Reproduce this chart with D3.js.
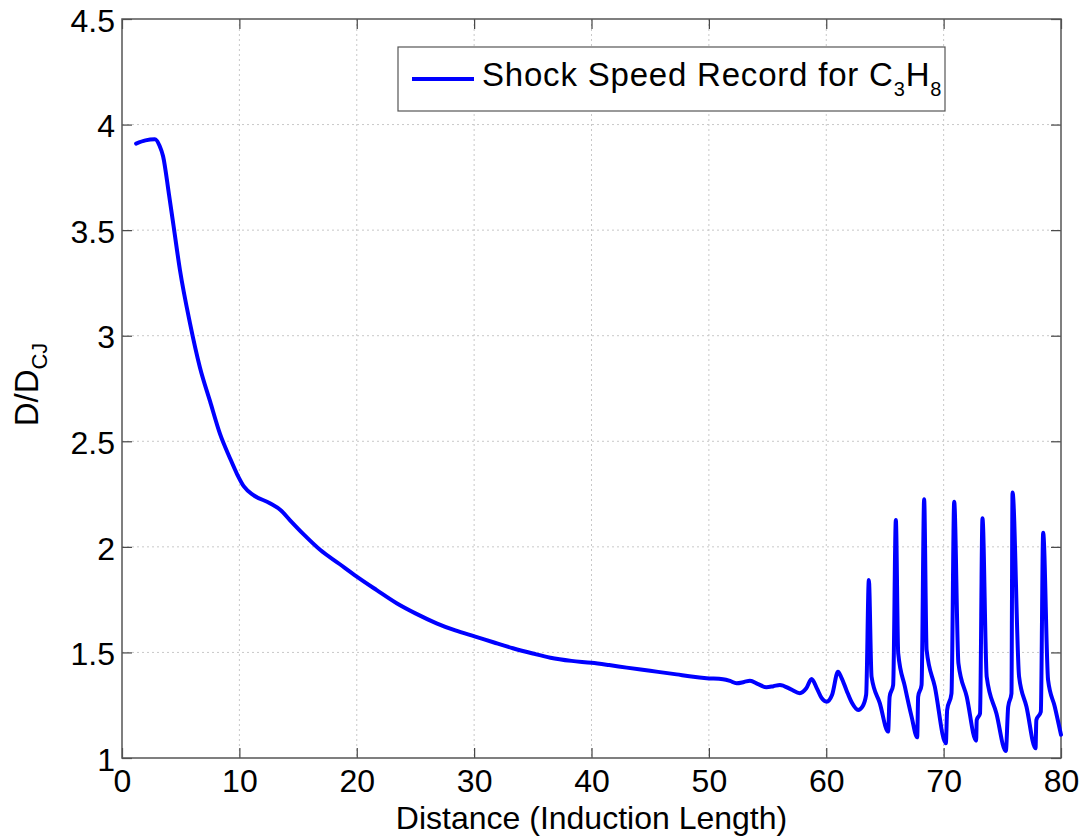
<!DOCTYPE html>
<html>
<head>
<meta charset="utf-8">
<script src="https://cdn.jsdelivr.net/npm/d3@7"></script>
<style>
  body { margin: 0; background: #fff; }
  text { font-family: "Liberation Sans", Arial, sans-serif; fill: #000; }
</style>
</head>
<body>
<div id="chart"></div>
<script>
// Shock speed record
const distance = [
  1.2, 2.0, 2.8, 3.2, 3.5, 4.0, 4.4, 4.94, 5.79, 6.64, 7.5, 8.35, 9.2, 9.8, 10.4, 11.2,
  12.6, 13.5, 14.3, 15.5, 16.9, 18.5, 20.0, 21.7, 23.4, 25.0, 26.8, 28.4, 30.1, 31.7,
  33.3, 35.0, 36.5, 38.3, 40.0, 41.5, 43.0, 45.0, 47.25, 48.5, 49.8, 51.2, 51.8, 52.36,
  53.0, 53.5, 54.2, 54.9, 55.5, 56.05, 57.0, 57.75, 58.3, 58.75, 59.2, 59.6, 60.03, 60.5,
  61.0, 61.3, 61.73, 62.2, 62.72, 63.1, 63.4, 63.63, 63.86, 64.57, 65.27, 65.4, 65.7,
  65.93, 66.13, 66.7, 67.27, 67.75, 67.83, 68.12, 68.34, 68.55, 69.25, 70.19, 70.3,
  70.67, 70.9, 71.26, 71.97, 72.77, 72.82, 73.1, 73.31, 73.67, 74.5, 75.3, 75.5, 75.78,
  75.87, 76.43, 77.06, 77.83, 77.9, 78.28, 78.48, 78.9, 79.47, 80.0
];
const speedRatio = [
  3.91, 3.925, 3.93, 3.90, 3.85, 3.67, 3.517, 3.31, 3.06, 2.85, 2.69, 2.535, 2.42, 2.345, 2.285, 2.245,
  2.207, 2.175, 2.127, 2.058, 1.985, 1.92, 1.859, 1.795, 1.733, 1.685, 1.638, 1.604, 1.575, 1.547,
  1.52, 1.495, 1.475, 1.46, 1.451, 1.44, 1.428, 1.413, 1.396, 1.386, 1.378, 1.373, 1.365, 1.354,
  1.360, 1.366, 1.350, 1.335, 1.340, 1.346, 1.325, 1.307, 1.33, 1.374, 1.33, 1.285, 1.267, 1.30,
  1.409, 1.38, 1.32, 1.26, 1.227, 1.245, 1.30, 1.843, 1.385, 1.259, 1.125, 1.29, 1.346,
  2.127, 1.496, 1.338, 1.196, 1.098, 1.29, 1.346, 2.225, 1.512, 1.338, 1.07, 1.227,
  1.306, 2.214, 1.449, 1.29, 1.082, 1.18, 1.211, 2.135, 1.385, 1.211, 1.033, 1.243, 1.306,
  2.258, 1.385, 1.243, 1.046, 1.18, 1.219, 2.067, 1.369, 1.243, 1.11
];
const xTicks = [0, 10, 20, 30, 40, 50, 60, 70, 80];
const yTicks = [1, 1.5, 2, 2.5, 3, 3.5, 4, 4.5];

const W = 1083, H = 839;
const margin = { top: 19, right: 22, bottom: 81, left: 122 };
const width = W - margin.left - margin.right;
const height = H - margin.top - margin.bottom;

const svg = d3.select("#chart").append("svg")
    .attr("width", W)
    .attr("height", H);

const g = svg.append("g")
    .attr("transform", `translate(${margin.left},${margin.top})`);

const x = d3.scaleLinear().domain([0, 80]).range([0, width]);
const y = d3.scaleLinear().domain([1, 4.5]).range([height, 0]);

// grid
g.append("g").selectAll("line")
    .data(xTicks.slice(1, -1))
    .join("line")
    .attr("x1", d => x(d)).attr("x2", d => x(d))
    .attr("y1", 0).attr("y2", height)
    .attr("stroke", "#c8c8c8").attr("stroke-width", 1)
    .attr("stroke-dasharray", "2,3");
g.append("g").selectAll("line")
    .data(yTicks.slice(1, -1))
    .join("line")
    .attr("x1", 0).attr("x2", width)
    .attr("y1", d => y(d)).attr("y2", d => y(d))
    .attr("stroke", "#c8c8c8").attr("stroke-width", 1)
    .attr("stroke-dasharray", "2,3");

// axes, ticks pointing inward (MATLAB style box)
const tickLen = 10;
const fmt = d => String(d);
function styleAxis(sel, showText) {
  sel.select(".domain").remove();
  sel.selectAll(".tick line").attr("stroke", "#444").attr("stroke-width", 1.2);
  sel.selectAll(".tick text")
     .style("font-size", "32px")
     .style("font-family", '"Liberation Sans", Arial, sans-serif')
     .attr("fill", "#000");
  if (!showText) sel.selectAll(".tick text").remove();
}

g.append("g")
    .attr("transform", `translate(0,${height})`)
    .call(d3.axisBottom(x).tickValues(xTicks).tickFormat(fmt).tickSizeInner(-tickLen).tickSizeOuter(0))
    .call(s => styleAxis(s, true))
    .selectAll(".tick text").attr("dy", 0).attr("y", 34);

g.append("g")
    .call(d3.axisTop(x).tickValues(xTicks).tickSizeInner(-tickLen).tickSizeOuter(0))
    .call(s => styleAxis(s, false));

g.append("g")
    .call(d3.axisLeft(y).tickValues(yTicks).tickFormat(fmt).tickSizeInner(-tickLen).tickSizeOuter(0))
    .call(s => styleAxis(s, true))
    .selectAll(".tick text").attr("x", -7).attr("dy", "0.38em");

g.append("g")
    .attr("transform", `translate(${width},0)`)
    .call(d3.axisRight(y).tickValues(yTicks).tickSizeInner(-tickLen).tickSizeOuter(0))
    .call(s => styleAxis(s, false));

// box
g.append("rect")
    .attr("width", width).attr("height", height)
    .attr("fill", "none").attr("stroke", "#555").attr("stroke-width", 1.5);

// data line
const pts = distance.map((d, i) => [d, speedRatio[i]]);
g.append("path")
    .datum(pts)
    .attr("fill", "none")
    .attr("stroke", "#0000ff")
    .attr("stroke-width", 4)
    .attr("stroke-linejoin", "round")
    .attr("stroke-linecap", "round")
    .attr("d", d3.line().curve(d3.curveMonotoneX).x(d => x(d[0])).y(d => y(d[1])));

// axis labels
svg.append("text")
    .attr("x", margin.left + width / 2)
    .attr("y", 829)
    .attr("text-anchor", "middle")
    .style("font-size", "32px")
    .text("Distance (Induction Length)");

const yl = svg.append("text")
    .attr("transform", `translate(38,${margin.top + height / 2 - 4}) rotate(-90)`)
    .attr("text-anchor", "middle")
    .style("font-size", "33px");
yl.append("tspan").text("D/D");
yl.append("tspan").attr("dy", 9).style("font-size", "22px").text("CJ");

// legend
const lg = svg.append("g").attr("transform", "translate(398,47)");
lg.append("rect")
    .attr("width", 547).attr("height", 64)
    .attr("fill", "#fff").attr("stroke", "#555").attr("stroke-width", 1.2);
lg.append("line")
    .attr("x1", 14).attr("x2", 76).attr("y1", 32).attr("y2", 32)
    .attr("stroke", "#0000ff").attr("stroke-width", 4);
const lt = lg.append("text")
    .attr("x", 84).attr("y", 39)
    .style("font-size", "33px")
    .style("letter-spacing", "0.8px");
lt.append("tspan").text("Shock Speed Record for C");
lt.append("tspan").attr("dy", 10).style("font-size", "20px").text("3");
lt.append("tspan").attr("dy", -10).text("H");
lt.append("tspan").attr("dy", 10).style("font-size", "20px").text("8");
</script>
</body>
</html>
